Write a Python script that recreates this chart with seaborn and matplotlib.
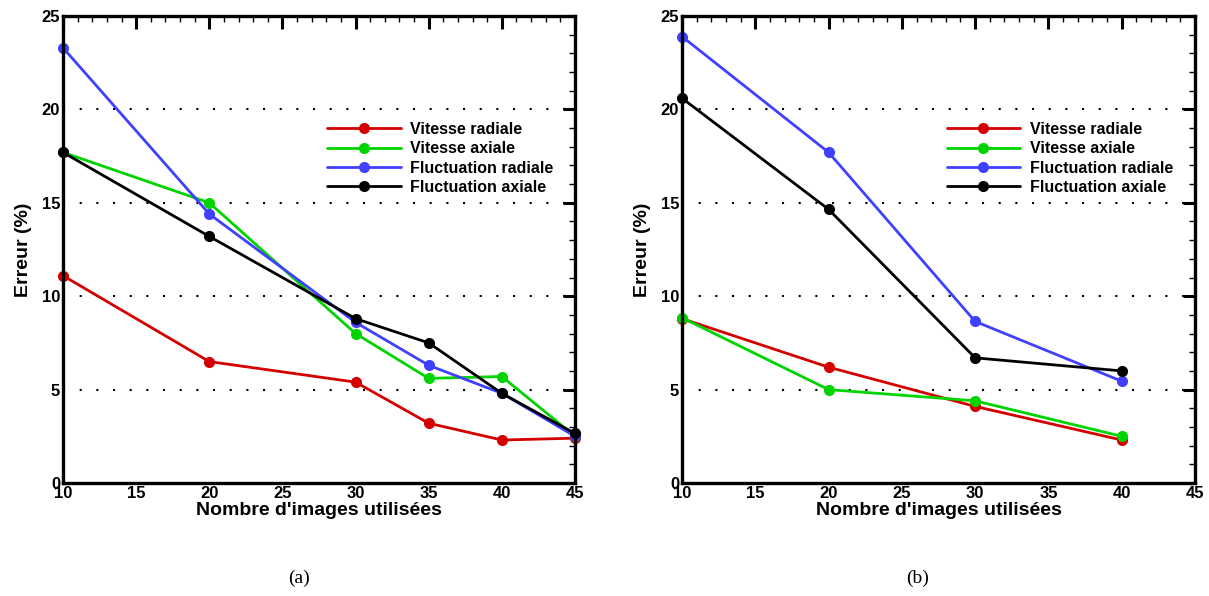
import matplotlib
matplotlib.use("Agg")
import matplotlib.pyplot as plt
import pandas as pd
import seaborn as sns
from matplotlib.ticker import MultipleLocator

# Data
series_names = ['Vitesse radiale', 'Vitesse axiale', 'Fluctuation radiale', 'Fluctuation axiale']
colors = ['#d40000', '#00d400', '#4040ff', '#000000']

x_a = [10, 20, 30, 35, 40, 45]
vit_rad_a = [11.1, 6.5, 5.4, 3.2, 2.3, 2.4]
vit_ax_a = [17.7, 15.0, 8.0, 5.6, 5.7, 2.5]
fluc_rad_a = [23.3, 14.4, 8.6, 6.3, 4.8, 2.5]
fluc_ax_a = [17.7, 13.2, 8.8, 7.5, 4.8, 2.65]

x_b = [10, 20, 30, 40]
vit_rad_b = [8.8, 6.2, 4.1, 2.3]
vit_ax_b = [8.85, 5.0, 4.4, 2.5]
fluc_rad_b = [23.9, 17.7, 8.65, 5.45]
fluc_ax_b = [20.6, 14.65, 6.7, 6.0]

x_ticks = [10, 15, 20, 25, 30, 35, 40, 45]
y_ticks = [0, 5, 10, 15, 20, 25]


def make_df(x, cols):
    frames = []
    for name, vals in zip(series_names, cols):
        frames.append(pd.DataFrame({'n': x, 'err': vals, 'serie': name}))
    return pd.concat(frames, ignore_index=True)


df_a = make_df(x_a, [vit_rad_a, vit_ax_a, fluc_rad_a, fluc_ax_a])
df_b = make_df(x_b, [vit_rad_b, vit_ax_b, fluc_rad_b, fluc_ax_b])

sns.set_style('white')
plt.rcParams['font.family'] = ['Liberation Sans', 'DejaVu Sans']
plt.rcParams['font.weight'] = 'bold'
plt.rcParams['text.color'] = 'black'
plt.rcParams['axes.labelcolor'] = 'black'
plt.rcParams['xtick.color'] = 'black'
plt.rcParams['ytick.color'] = 'black'

fig = plt.figure(figsize=(12.09, 5.96), dpi=100)
ax1 = fig.add_axes([63 / 1209, 1 - 483 / 596, 512 / 1209, 467 / 596])
ax2 = fig.add_axes([682 / 1209, 1 - 483 / 596, 513 / 1209, 467 / 596])


def style_panel(ax, df, tag):
    sns.lineplot(data=df, x='n', y='err', hue='serie', hue_order=series_names,
                 palette=colors, marker='o', markersize=8, markeredgewidth=0,
                 linewidth=2, ax=ax, zorder=3, clip_on=False)
    ax.set_xlim(10, 45)
    ax.set_ylim(0, 25)
    ax.set_xticks(x_ticks)
    ax.set_yticks(y_ticks)
    ax.xaxis.set_minor_locator(MultipleLocator(1))
    ax.yaxis.set_minor_locator(MultipleLocator(1))
    ax.tick_params(which='major', direction='in', length=9, width=2.2,
                   top=True, right=True, labelsize=12, pad=2, colors='black')
    ax.tick_params(which='minor', direction='in', length=4.5, width=1,
                   top=True, right=True, colors='black')
    for lab in ax.get_xticklabels() + ax.get_yticklabels():
        lab.set_fontweight('bold')
    for s in ax.spines.values():
        s.set_linewidth(2.4)
        s.set_color('black')
        s.set_zorder(4)
    ax.grid(False)
    for yv in y_ticks[1:-1]:
        ax.axhline(yv, color='black', linestyle=(0, (1, 7)), linewidth=1.5, zorder=1)
    ax.set_xlabel("Nombre d'images utilisées", fontsize=14, fontweight='bold',
                  labelpad=1, color='black')
    ax.set_ylabel('Erreur (%)', fontsize=14, fontweight='bold', labelpad=7, color='black')
    leg = ax.legend(loc='upper left', bbox_to_anchor=(0.516, 0.773), frameon=False,
                    handlelength=4.6, handletextpad=0.6, labelspacing=0.27,
                    borderpad=0, borderaxespad=0,
                    prop={'weight': 'bold', 'size': 11.5})
    for t in leg.get_texts():
        t.set_color('black')
    ax.text(0.46, -0.205, tag, transform=ax.transAxes, ha='center', va='center',
            fontsize=14, family='Liberation Serif', fontweight='normal', color='black')


style_panel(ax1, df_a, '(a)')
style_panel(ax2, df_b, '(b)')

fig.savefig('out.png', dpi=100)
